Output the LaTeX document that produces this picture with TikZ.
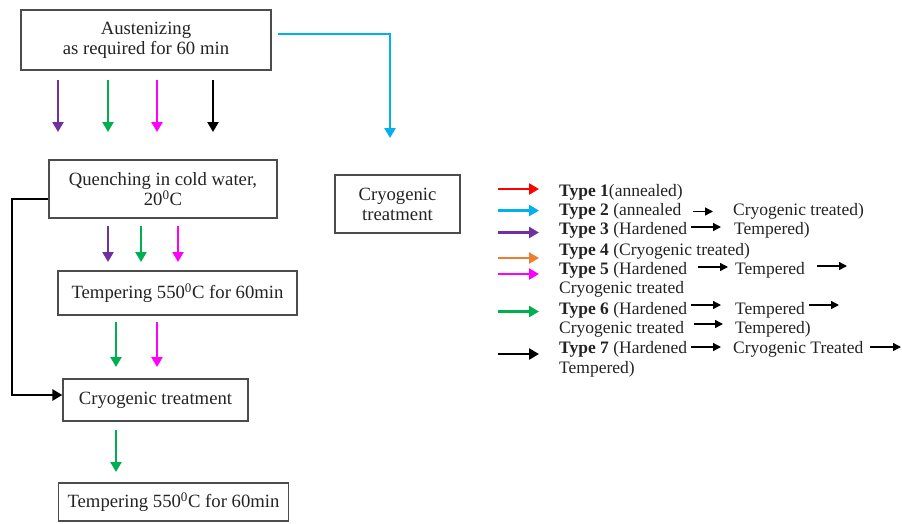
\documentclass[tikz,border=0pt]{standalone}
\usepackage{fontspec}
\setmainfont{Liberation Serif}
\usetikzlibrary{arrows.meta,calc}
\definecolor{cred}{RGB}{255,0,0}
\definecolor{ccyan}{RGB}{0,176,240}
\definecolor{cpurple}{RGB}{112,48,160}
\definecolor{corange}{RGB}{237,125,49}
\definecolor{cmagenta}{RGB}{255,0,255}
\definecolor{cgreen}{RGB}{0,176,80}
\definecolor{ctext}{RGB}{35,35,35}
\tikzset{
  box/.style={draw=black!70, line width=1.2pt, align=center, inner sep=0pt,
    text=ctext, font=\fontsize{18.7}{20}\selectfont},
  flow/.style={line width=2.5pt, -{Triangle[length=10pt,width=11pt]}},
  thinarrow/.style={line width=1.4pt, -{Triangle[length=8pt,width=8pt]}},
  leg/.style={anchor=base west, inner sep=0pt, text=ctext, font=\fontsize{17.5}{20}\selectfont},
}
\begin{document}
\begin{tikzpicture}[x=1pt,y=-1pt]
\useasboundingbox (0,0) rectangle (902,523);
% boxes
\node[box, minimum width=250, minimum height=60] (aust) at (146,40) {Austenizing\\as required for 60 min};
\node[box, minimum width=228, minimum height=58] (quench) at (163,189) {Quenching in cold water,\\20\textsuperscript{0}C};
\node[box, minimum width=125, minimum height=58] (cryoR) at (397.5,204) {Cryogenic\\treatment};
\node[box, minimum width=239, minimum height=44] (temp1) at (177.5,293) {Tempering 550\textsuperscript{0}C for 60min};
\node[box, minimum width=185, minimum height=42] (cryo) at (155.5,400) {Cryogenic treatment};
\node[box, minimum width=230, minimum height=38] (temp2) at (173.5,502) {Tempering 550\textsuperscript{0}C for 60min};
% row 1 arrows
\foreach \x/\c [count=\i] in {58/cpurple,108/cgreen,157/cmagenta,213/black}{
  \coordinate (a\i s) at (\x,80);
  \coordinate (a\i e) at (\x,132);
  \draw[flow,\c] (a\i s) -- (a\i e);
}
% row 2 arrows
\foreach \x/\c [count=\i] in {108/cpurple,141/cgreen,178/cmagenta}{
  \coordinate (b\i s) at (\x,226);
  \coordinate (b\i e) at (\x,262);
  \draw[flow,\c] (b\i s) -- (b\i e);
}
% row 3 arrows
\foreach \x/\c [count=\i] in {116/cgreen,157/cmagenta}{
  \coordinate (c\i s) at (\x,322);
  \coordinate (c\i e) at (\x,367);
  \draw[flow,\c] (c\i s) -- (c\i e);
}
% row 4 arrow
\coordinate (d1s) at (116,430);
\coordinate (d1e) at (116,472);
\draw[flow,cgreen] (d1s) -- (d1e);
% blue elbow
\coordinate (bs) at (278,34);
\coordinate (be) at (390,138);
\draw[flow,ccyan] (bs) -| (be);
% black elbow
\coordinate (qk) at (quench.west |- 0,199);
\coordinate (ck) at (cryo.west |- 0,395);
\draw[flow,black] (qk) -- (12,199) -- (12,395) -- (ck);
% legend colour arrows
\foreach \y/\c [count=\i] in {189/cred,210.5/ccyan,232.5/cpurple,258/corange,274/cmagenta,311.5/cgreen,354/black}{
  \coordinate (l\i s) at (498,\y);
  \coordinate (l\i e) at (539,\y);
  \draw[flow,\c] (l\i s) -- (l\i e);
}
% legend text
\node[leg] (t1) at (559,196) {\textbf{Type 1}(annealed)};
\node[leg] (t2) at (559,215) {\textbf{Type 2} (annealed};
\node[leg] (t2b) at (733,215) {Cryogenic treated)};
\node[leg] (t3) at (559,234) {\textbf{Type 3} (Hardened};
\node[leg] (t3b) at (734,234) {Tempered)};
\node[leg] (t4) at (559,255) {\textbf{Type 4} (Cryogenic treated)};
\node[leg] (t5) at (559,274) {\textbf{Type 5} (Hardened};
\node[leg] (t5b) at (735,274) {Tempered};
\node[leg] (t5c) at (559,293) {Cryogenic treated};
\node[leg] (t6) at (559,314) {\textbf{Type 6} (Hardened};
\node[leg] (t6b) at (735,314) {Tempered};
\node[leg] (t6c) at (559,333) {Cryogenic treated};
\node[leg] (t6d) at (735,333) {Tempered)};
\node[leg] (t7) at (559,353) {\textbf{Type 7} (Hardened};
\node[leg] (t7b) at (733,353) {Cryogenic Treated};
\node[leg] (t7c) at (559,373) {Tempered)};
% inline arrows
\foreach \xa/\xb/\y [count=\i] in {693/713/211.5, 691/721/227, 698/728/267, 817/847/266, 691/721/305, 809/839/305, 694/723/324, 691/721/347, 870/901/347}{
  \coordinate (m\i s) at (\xa,\y);
  \coordinate (m\i e) at (\xb,\y);
  \draw[thinarrow] (m\i s) -- (m\i e);
}
\end{tikzpicture}
\end{document}
